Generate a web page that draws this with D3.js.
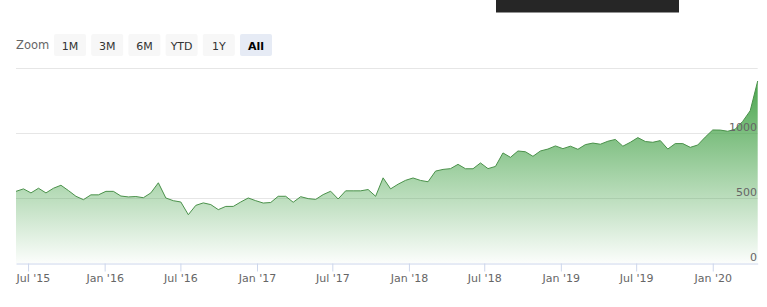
<!DOCTYPE html>
<html>
<head>
<meta charset="utf-8">
<script src="https://cdn.jsdelivr.net/npm/d3@7"></script>
<style>
  body { margin: 0; background: #fff; }
  svg { display: block; font-family: "DejaVu Sans", sans-serif; }
</style>
</head>
<body>
<div id="chart"></div>
<script>
const dates = [
  "2015-06-02","2015-06-20","2015-07-08","2015-07-26","2015-08-13","2015-08-31","2015-09-18","2015-10-06","2015-10-24","2015-11-11",
  "2015-11-29","2015-12-17","2016-01-04","2016-01-22","2016-02-09","2016-02-27","2016-03-16","2016-04-03","2016-04-21","2016-05-09",
  "2016-05-27","2016-06-14","2016-07-02","2016-07-20","2016-08-07","2016-08-25","2016-09-12","2016-09-30","2016-10-18","2016-11-05",
  "2016-11-23","2016-12-11","2016-12-29","2017-01-16","2017-02-03","2017-02-21","2017-03-11","2017-03-29","2017-04-16","2017-05-04",
  "2017-05-22","2017-06-09","2017-06-27","2017-07-15","2017-08-02","2017-08-20","2017-09-07","2017-09-25","2017-10-13","2017-10-31",
  "2017-11-18","2017-12-06","2017-12-24","2018-01-11","2018-01-29","2018-02-16","2018-03-06","2018-03-24","2018-04-11","2018-04-29",
  "2018-05-17","2018-06-04","2018-06-22","2018-07-10","2018-07-28","2018-08-15","2018-09-02","2018-09-20","2018-10-08","2018-10-26",
  "2018-11-13","2018-12-01","2018-12-19","2019-01-06","2019-01-24","2019-02-11","2019-03-01","2019-03-19","2019-04-06","2019-04-24",
  "2019-05-12","2019-05-30","2019-06-17","2019-07-05","2019-07-23","2019-08-10","2019-08-28","2019-09-15","2019-10-03","2019-10-21",
  "2019-11-08","2019-11-26","2019-12-14","2020-01-01","2020-01-19","2020-02-06","2020-02-24","2020-03-13","2020-03-31","2020-04-18"
];
const values = [
  552, 571, 540, 576, 540, 576, 599, 558, 514, 488,
  525, 525, 552, 552, 516, 509, 512, 503, 540, 618,
  501, 480, 470, 372, 444, 463, 450, 411, 436, 436,
  470, 501, 480, 462, 466, 514, 514, 468, 511, 496,
  490, 527, 553, 493, 556, 556, 556, 566, 514, 656,
  571, 607, 637, 655, 636, 626, 708, 721, 727, 760,
  726, 726, 771, 727, 744, 848, 814, 863, 857, 822,
  863, 878, 902, 881, 900, 876, 912, 924, 915, 938,
  952, 900, 930, 966, 936, 930, 943, 878, 920, 920,
  891, 909, 970, 1025, 1024, 1015, 1031, 1091, 1173, 1402
];
const gridValues = [500, 1000, 1500];
const yLabels = [0, 500, 1000];
const zoomButtons = ["1M", "3M", "6M", "YTD", "1Y", "All"];
const activeButton = "All";

const width = 767, height = 307;
const parse = d3.timeParse("%Y-%m-%d");
const data = dates.map((d, i) => ({ date: parse(d), value: values[i] }));

const svg = d3.select("#chart").append("svg")
  .attr("width", width).attr("height", height);

// dark strip at the top
svg.append("rect")
  .attr("x", 496).attr("y", 0).attr("width", 183).attr("height", 12.5)
  .attr("fill", "#262626");

// range selector
svg.append("text")
  .attr("x", 16).attr("y", 49)
  .attr("fill", "#666").style("font-size", "11.5px")
  .text("Zoom");

const btn = svg.append("g").selectAll("g")
  .data(zoomButtons).enter().append("g")
  .attr("transform", (d, i) => `translate(${54 + i * 37.2},34)`);
btn.append("rect")
  .attr("width", 32).attr("height", 22).attr("rx", 2)
  .attr("fill", d => d === activeButton ? "#e6ebf5" : "#f7f7f7");
btn.append("text")
  .attr("x", 16).attr("y", 15.5)
  .attr("text-anchor", "middle")
  .style("font-size", "11px")
  .style("font-weight", d => d === activeButton ? "bold" : "normal")
  .attr("fill", d => d === activeButton ? "#000" : "#333")
  .text(d => d);

// scales
const x = d3.scaleTime()
  .domain(d3.extent(data, d => d.date))
  .range([16, 757.7]);
const y = d3.scaleLinear()
  .domain([0, 1500])
  .range([263, 68.3]);

// gradient
const grad = svg.append("defs").append("linearGradient")
  .attr("id", "fillGrad")
  .attr("gradientUnits", "userSpaceOnUse")
  .attr("x1", 0).attr("y1", y(1500)).attr("x2", 0).attr("y2", y(0));
grad.append("stop").attr("offset", "0%").attr("stop-color", "#3d9f41").attr("stop-opacity", 1);
grad.append("stop").attr("offset", "100%").attr("stop-color", "#3d9f41").attr("stop-opacity", 0.02);

// grid
svg.append("g").selectAll("line")
  .data(gridValues).enter().append("line")
  .attr("x1", 16).attr("x2", 757.7)
  .attr("y1", d => Math.round(y(d)) + 0.5).attr("y2", d => Math.round(y(d)) + 0.5)
  .attr("stroke", "#e6e6e6");

// area + line
svg.append("path")
  .datum(data)
  .attr("fill", "url(#fillGrad)")
  .attr("d", d3.area().x(d => x(d.date)).y0(y(0)).y1(d => y(d.value)));

svg.append("path")
  .datum(data)
  .attr("fill", "none")
  .attr("stroke", "#4a914a")
  .attr("stroke-width", 1)
  .attr("stroke-linejoin", "round")
  .attr("d", d3.line().x(d => x(d.date)).y(d => y(d.value)));

// x axis
const xAxis = svg.append("g")
  .attr("transform", `translate(0,${Math.round(y(0)) + 0.5})`)
  .call(d3.axisBottom(x)
    .ticks(d3.timeMonth.every(6))
    .tickFormat(d3.timeFormat("%b '%y"))
    .tickSize(8).tickSizeOuter(0).tickPadding(3));
xAxis.select(".domain").attr("stroke", "#ccd6eb");
xAxis.selectAll(".tick line").attr("stroke", "#ccd6eb");
xAxis.selectAll(".tick text")
  .attr("fill", "#666")
  .style("font-size", "11px")
  .style("font-family", "DejaVu Sans, sans-serif")
  .each(function(d) {
    const w = this.getComputedTextLength();
    const tx = x(d);
    if (tx - w / 2 < 16) d3.select(this).attr("x", 16 - tx + w / 2);
  });

// y labels
svg.append("g").selectAll("text")
  .data(yLabels).enter().append("text")
  .attr("x", 757)
  .attr("y", d => y(d) - 2)
  .attr("text-anchor", "end")
  .attr("fill", "#666")
  .style("font-size", "11px")
  .text(d => d);
</script>
</body>
</html>
